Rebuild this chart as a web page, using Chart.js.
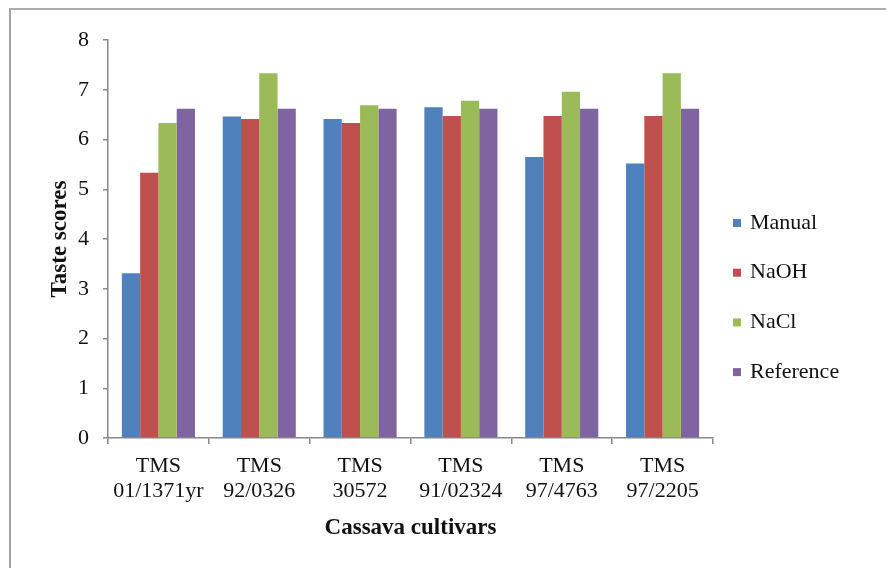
<!DOCTYPE html>
<html>
<head>
<meta charset="utf-8">
<script src="https://cdn.jsdelivr.net/npm/chart.js@4"></script>
<style>
  html, body { margin: 0; padding: 0; background: #fff; }
  #wrap { position: relative; width: 886px; height: 568px; overflow: hidden; }
  #frame { position: absolute; left: 9px; top: 8px; width: 1000px; height: 700px;
           border-top: 2px solid #adadad; border-left: 2px solid #a4a4a4; }
  canvas { position: absolute; left: 0; top: 0; }
</style>
</head>
<body>
<div id="wrap">
  <div id="frame"></div>
  <canvas id="c" width="886" height="568"></canvas>
</div>
<script>
const categories = [
  ['TMS', '01/1371yr'],
  ['TMS', '92/0326'],
  ['TMS', '30572'],
  ['TMS', '91/02324'],
  ['TMS', '97/4763'],
  ['TMS', '97/2205']
];
const seriesNames = ['Manual', 'NaOH', 'NaCl', 'Reference'];
const manual    = [3.31, 6.46, 6.41, 6.65, 5.65, 5.52];
const naoh      = [5.33, 6.41, 6.33, 6.47, 6.47, 6.47];
const nacl      = [6.33, 7.33, 6.69, 6.78, 6.96, 7.33];
const reference = [6.62, 6.62, 6.62, 6.62, 6.62, 6.62];
const yTicks = [0, 1, 2, 3, 4, 5, 6, 7, 8];

const colors = ['#4F81BD', '#C0504D', '#9BBB59', '#8064A2'];
const seriesValues = [manual, naoh, nacl, reference];
const FONT = '"Liberation Serif", "Times New Roman", serif';

const legendPlugin = {
  id: 'sideLegend',
  afterDraw(chart) {
    const ctx = chart.ctx;
    ctx.save();
    ctx.font = '22px ' + FONT;
    ctx.textBaseline = 'middle';
    ctx.textAlign = 'left';
    chart.data.datasets.forEach((ds, i) => {
      const y = 223 + i * 49.7;
      ctx.fillStyle = ds.backgroundColor;
      ctx.fillRect(733, y - 4, 8, 8);
      ctx.fillStyle = '#111';
      ctx.fillText(ds.label, 750, y);
    });
    ctx.restore();
  }
};

new Chart(document.getElementById('c'), {
  type: 'bar',
  data: {
    labels: categories,
    datasets: seriesNames.map((name, i) => ({
      label: name,
      data: seriesValues[i],
      backgroundColor: colors[i],
      borderWidth: 0,
      categoryPercentage: 0.725,
      barPercentage: 1.0
    }))
  },
  options: {
    responsive: false,
    animation: false,
    devicePixelRatio: 1,
    layout: { padding: { left: 10, top: 40, right: 173, bottom: 0 } },
    plugins: { legend: { display: false }, tooltip: { enabled: false } },
    scales: {
      x: {
        grid: { display: true, drawOnChartArea: false, drawTicks: true, tickLength: 6,
                color: '#888888', lineWidth: 1.5, offset: true },
        border: { color: '#888888', width: 1.5 },
        ticks: { color: '#111', font: { family: FONT, size: 22, lineHeight: 1.16 }, padding: 9,
                 maxRotation: 0, autoSkip: false },
        title: { display: true, text: 'Cassava cultivars', color: '#111',
                 font: { family: FONT, size: 23, weight: 'bold' }, padding: { top: 0, bottom: 26 } },
        afterFit(scale) { scale.height = 130; }
      },
      y: {
        min: 0, max: 8,
        afterBuildTicks(scale) { scale.ticks = yTicks.map(v => ({ value: v })); },
        grid: { display: true, drawOnChartArea: false, drawTicks: true, tickLength: 5,
                color: '#888888', lineWidth: 1.5 },
        border: { color: '#888888', width: 1.5 },
        ticks: { color: '#111', font: { family: FONT, size: 22 }, padding: 14 },
        title: { display: true, text: 'Taste scores', color: '#111',
                 font: { family: FONT, size: 23, weight: 'bold' }, padding: { top: 36, bottom: 0 } },
        afterFit(scale) { scale.width = 98; }
      }
    }
  },
  plugins: [legendPlugin]
});
</script>
</body>
</html>
